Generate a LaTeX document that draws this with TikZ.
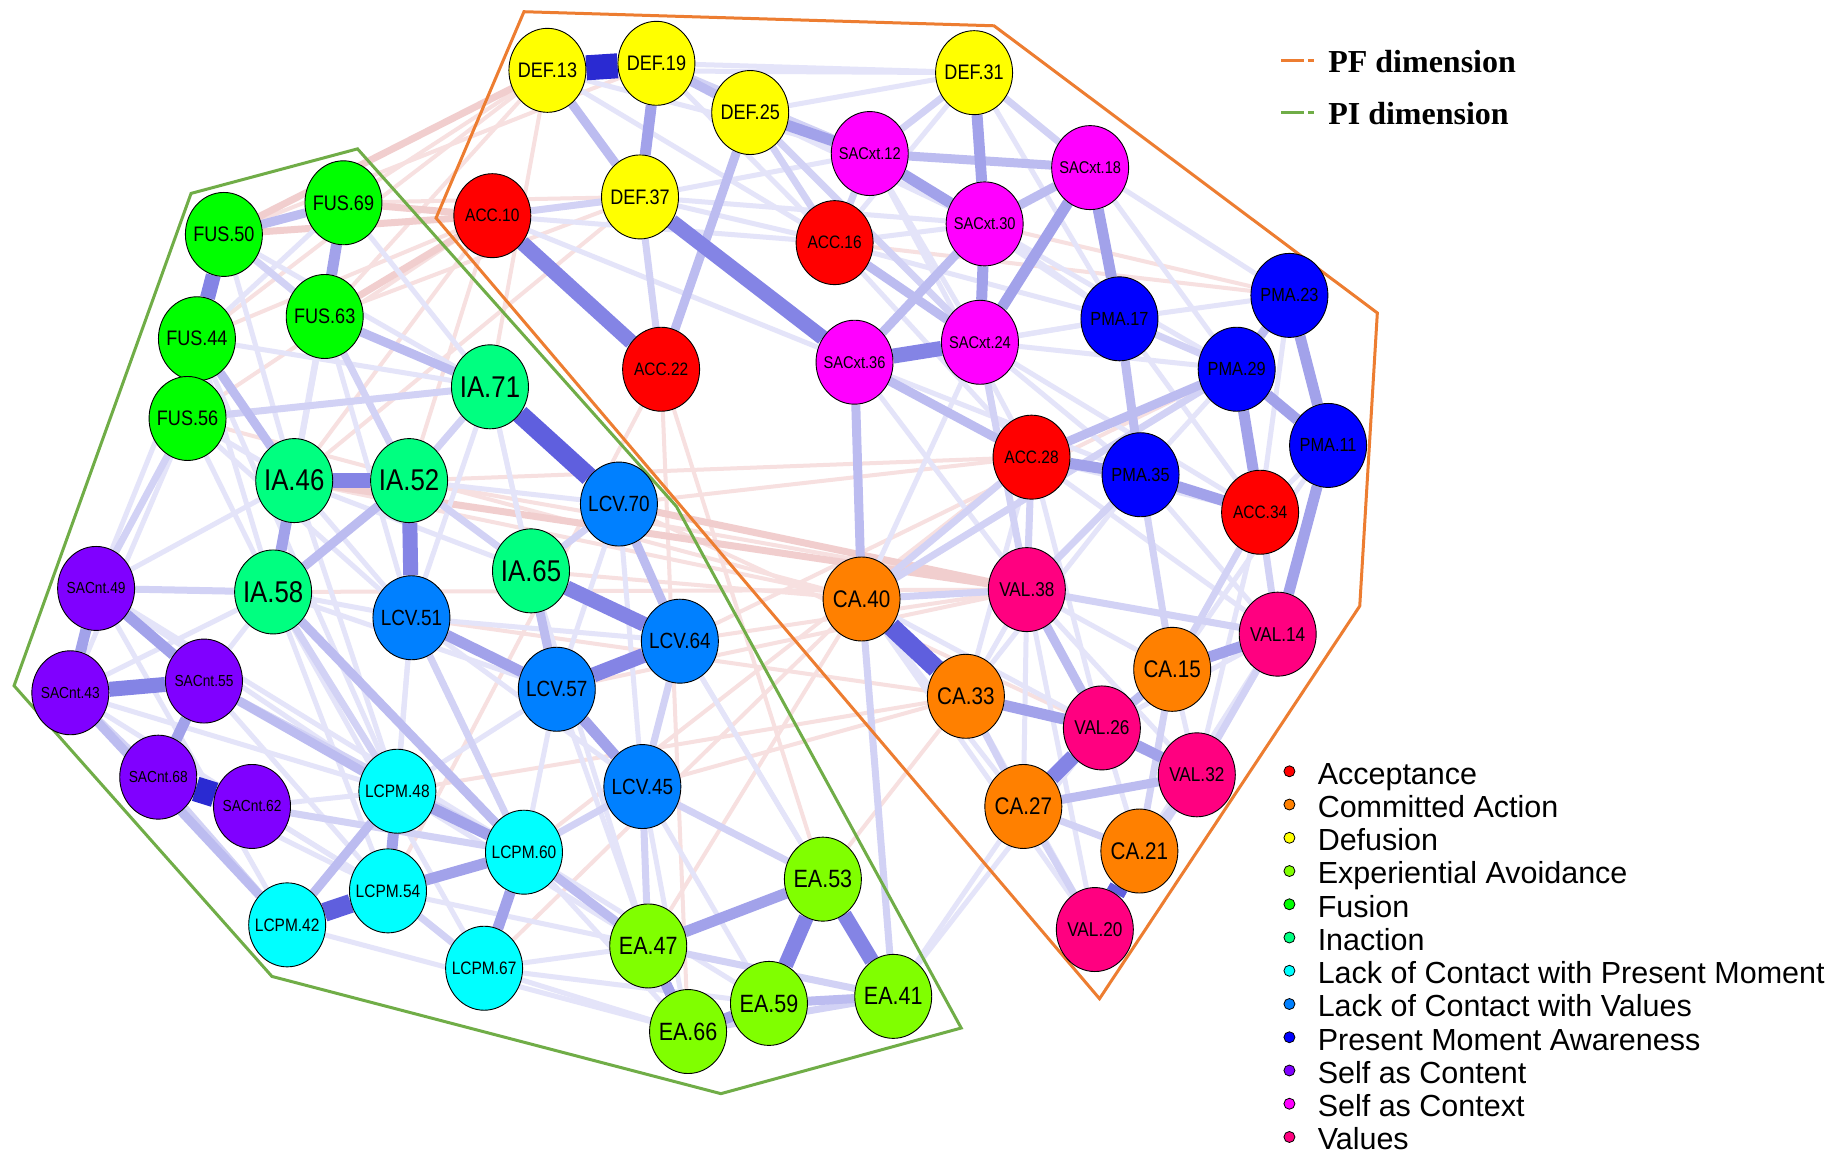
\documentclass[tikz,border=0pt]{standalone}
\usepackage{fontspec}
\setmainfont{Liberation Sans}
\newfontfamily\labfont[FakeStretch=0.86]{Liberation Sans}
\newfontfamily\keyserif{Liberation Serif}
\usetikzlibrary{shapes.geometric}
\pgfdeclarelayer{bg}
\pgfsetlayers{bg,main}

% group colours
\definecolor{cACC}{HTML}{FF0000}
\definecolor{cCA}{HTML}{FF8000}
\definecolor{cDEF}{HTML}{FFFF00}
\definecolor{cEA}{HTML}{80FF00}
\definecolor{cFUS}{HTML}{00FF00}
\definecolor{cIA}{HTML}{00FF80}
\definecolor{cLCPM}{HTML}{00FFFF}
\definecolor{cLCV}{HTML}{0080FF}
\definecolor{cPMA}{HTML}{0000FF}
\definecolor{cSCN}{HTML}{8000FF}
\definecolor{cSXT}{HTML}{FF00FF}
\definecolor{cVAL}{HTML}{FF0080}
\definecolor{cPF}{HTML}{ED7D31}
\definecolor{cPI}{HTML}{70AD47}
% edge shades
\definecolor{b1}{RGB}{228,228,249}
\definecolor{b2}{RGB}{210,210,245}
\definecolor{b3}{RGB}{188,188,240}
\definecolor{b4}{RGB}{162,162,234}
\definecolor{b5}{RGB}{132,132,229}
\definecolor{b6}{RGB}{95,95,222}
\definecolor{b7}{RGB}{42,42,210}
\definecolor{r1}{RGB}{247,224,224}
\definecolor{r2}{RGB}{241,206,206}

\newcommand\fsz[1]{\fontsize{#1pt}{#1pt}\selectfont}
\newcommand\nd[6]{\node[vx, fill=#4, label={[lbl, font=\labfont\fsz{#5}]center:#6}] (#1) at (#2,#3) {};}
\newcommand\lnk[3]{\draw[#1] (#2) -- (#3);}

\tikzset{
  vx/.style={ellipse, draw=black, line width=0.9pt, minimum width=77pt, minimum height=84pt, inner sep=0pt},
  lbl/.style={inner sep=0pt, text=black},
  e1/.style={b1, line width=5pt},
  e2/.style={b2, line width=7pt},
  e3/.style={b3, line width=9pt},
  e4/.style={b4, line width=11pt},
  e5/.style={b5, line width=15pt},
  e6/.style={b6, line width=19pt},
  e7/.style={b7, line width=25pt},
  n1/.style={r1, line width=4pt},
  n2/.style={r2, line width=7pt},
  hull/.style={line width=3pt, line join=miter},
  keytext/.style={anchor=base west, inner sep=0pt, font=\fsz{30.5}},
  keydot/.style={circle, draw=black, line width=0.8pt, minimum size=11pt, inner sep=0pt},
}

\begin{document}
\begin{tikzpicture}[x=1.1722pt, y=-1.1722pt]
\useasboundingbox (0,0) rectangle (1568,987);

% ---- nodes ----
\nd{DEF13}{467}{60}{cDEF}{21}{DEF.13}
\nd{DEF19}{560}{54}{cDEF}{21}{DEF.19}
\nd{DEF25}{640}{96}{cDEF}{21}{DEF.25}
\nd{DEF31}{831}{62}{cDEF}{21}{DEF.31}
\nd{DEF37}{546}{168}{cDEF}{21}{DEF.37}
\nd{SXT12}{742}{131}{cSXT}{17}{SACxt.12}
\nd{SXT18}{930}{143}{cSXT}{17}{SACxt.18}
\nd{SXT30}{840}{191}{cSXT}{17}{SACxt.30}
\nd{SXT36}{729}{309}{cSXT}{17}{SACxt.36}
\nd{SXT24}{836}{292}{cSXT}{17}{SACxt.24}
\nd{ACC10}{420}{184}{cACC}{18}{ACC.10}
\nd{ACC16}{712}{207}{cACC}{18}{ACC.16}
\nd{ACC22}{564}{315}{cACC}{18}{ACC.22}
\nd{ACC28}{880}{390}{cACC}{18}{ACC.28}
\nd{ACC34}{1075}{437}{cACC}{18}{ACC.34}
\nd{PMA17}{955}{272}{cPMA}{19}{PMA.17}
\nd{PMA23}{1100}{252}{cPMA}{19}{PMA.23}
\nd{PMA29}{1055}{315}{cPMA}{19}{PMA.29}
\nd{PMA11}{1133}{380}{cPMA}{19}{PMA.11}
\nd{PMA35}{973}{405}{cPMA}{19}{PMA.35}
\nd{VAL38}{876}{503}{cVAL}{20}{VAL.38}
\nd{VAL14}{1090}{541}{cVAL}{20}{VAL.14}
\nd{VAL26}{940}{621}{cVAL}{20}{VAL.26}
\nd{VAL32}{1021}{661}{cVAL}{20}{VAL.32}
\nd{VAL20}{934}{793}{cVAL}{20}{VAL.20}
\nd{CA40}{735}{511}{cCA}{24}{CA.40}
\nd{CA33}{824}{594}{cCA}{24}{CA.33}
\nd{CA15}{1000}{571}{cCA}{24}{CA.15}
\nd{CA27}{873}{688}{cCA}{24}{CA.27}
\nd{CA21}{972}{726}{cCA}{24}{CA.21}
\nd{FUS50}{191}{200}{cFUS}{21}{FUS.50}
\nd{FUS69}{293}{173}{cFUS}{21}{FUS.69}
\nd{FUS63}{277}{270}{cFUS}{21}{FUS.63}
\nd{FUS44}{168}{289}{cFUS}{21}{FUS.44}
\nd{FUS56}{160}{357}{cFUS}{21}{FUS.56}
\nd{IA71}{418}{330}{cIA}{30}{IA.71}
\nd{IA46}{251}{410}{cIA}{30}{IA.46}
\nd{IA52}{349}{410}{cIA}{30}{IA.52}
\nd{IA58}{233}{505}{cIA}{30}{IA.58}
\nd{IA65}{453}{487}{cIA}{30}{IA.65}
\nd{LCV70}{528}{430}{cLCV}{22}{LCV.70}
\nd{LCV51}{351}{527}{cLCV}{22}{LCV.51}
\nd{LCV64}{580}{547}{cLCV}{22}{LCV.64}
\nd{LCV57}{475}{588}{cLCV}{22}{LCV.57}
\nd{LCV45}{548}{671}{cLCV}{22}{LCV.45}
\nd{SCN49}{82}{502}{cSCN}{16}{SACnt.49}
\nd{SCN43}{60}{591}{cSCN}{16}{SACnt.43}
\nd{SCN55}{174}{581}{cSCN}{16}{SACnt.55}
\nd{SCN68}{135}{663}{cSCN}{16}{SACnt.68}
\nd{SCN62}{215}{688}{cSCN}{16}{SACnt.62}
\nd{LCPM48}{339}{675}{cLCPM}{18}{LCPM.48}
\nd{LCPM60}{447}{727}{cLCPM}{18}{LCPM.60}
\nd{LCPM54}{331}{760}{cLCPM}{18}{LCPM.54}
\nd{LCPM42}{245}{789}{cLCPM}{18}{LCPM.42}
\nd{LCPM67}{413}{826}{cLCPM}{18}{LCPM.67}
\nd{EA53}{702}{750}{cEA}{25}{EA.53}
\nd{EA47}{553}{807}{cEA}{25}{EA.47}
\nd{EA59}{656}{856}{cEA}{25}{EA.59}
\nd{EA41}{762}{850}{cEA}{25}{EA.41}
\nd{EA66}{587}{880}{cEA}{25}{EA.66}

% ---- key ----
\draw[cPF, line width=3pt, dash pattern=on 23pt off 4pt on 6pt off 50pt] (1093,52) -- (1122,52);
\draw[cPI, line width=3pt, dash pattern=on 23pt off 4pt on 6pt off 50pt] (1093,96) -- (1122,96);
\node[anchor=base west, inner sep=0pt, font=\keyserif\bfseries\fsz{32}] (kPF) at (1133,62) {PF dimension};
\node[anchor=base west, inner sep=0pt, font=\keyserif\bfseries\fsz{32}] (kPI) at (1133,106) {PI dimension};

\foreach \c/\t [count=\i from 0] in {cACC/Acceptance, cCA/Committed Action, cDEF/Defusion,
  cEA/Experiential Avoidance, cFUS/Fusion, cIA/Inaction,
  cLCPM/Lack of Contact with Present Moment, cLCV/Lack of Contact with Values,
  cPMA/Present Moment Awareness, cSCN/Self as Content, cSXT/Self as Context, cVAL/Values}{
  \node[keydot, fill=\c] (kd\i) at (1100,{658+28.36*\i}) {};
  \node[keytext] (kt\i) at (1124,{669+28.36*\i}) {\t};
}

% ---- edges and hulls ----
\begin{pgfonlayer}{bg}
\fill[white] (0,0) rectangle (1568,987);

% negative associations
\lnk{n1}{FUS69}{DEF13} \lnk{n1}{FUS50}{DEF19} \lnk{n1}{FUS44}{ACC10}
\lnk{n1}{FUS63}{DEF37} \lnk{n1}{FUS56}{ACC10} \lnk{n1}{IA71}{DEF13}
\lnk{n1}{FUS69}{DEF37} \lnk{n1}{ACC22}{EA53} \lnk{n1}{ACC22}{EA66}
\lnk{n1}{IA46}{CA40} \lnk{n1}{IA52}{VAL38} \lnk{n1}{LCV70}{ACC28}
\lnk{n1}{IA65}{CA40} \lnk{n1}{LCV51}{CA33} \lnk{n1}{IA52}{ACC28}
\lnk{n1}{LCPM60}{ACC28} \lnk{n1}{LCV57}{VAL38} \lnk{n1}{LCPM48}{CA33}
\lnk{n1}{EA47}{CA40} \lnk{n1}{SXT30}{PMA23} \lnk{n1}{LCV64}{PMA29}
\lnk{n1}{IA58}{VAL38} \lnk{n1}{FUS56}{CA40} \lnk{n1}{DEF37}{IA46}
\lnk{n1}{ACC10}{IA52} \lnk{n1}{LCV45}{CA33} \lnk{n1}{LCPM67}{CA40}
\lnk{n1}{ACC22}{LCPM54} \lnk{n1}{DEF13}{FUS44} \lnk{n1}{LCV70}{VAL26}
\lnk{n1}{FUS63}{DEF13} \lnk{n1}{IA46}{ACC10} \lnk{n1}{LCV64}{VAL38}
\lnk{n1}{EA53}{CA33} \lnk{n1}{ACC16}{PMA23}
\lnk{n2}{FUS69}{ACC10} \lnk{n2}{FUS50}{ACC10} \lnk{n2}{FUS50}{DEF13}
\lnk{n2}{FUS63}{ACC10} \lnk{n2}{IA46}{VAL38} \lnk{n2}{LCV70}{VAL38}

% faint positive associations
\lnk{e1}{FUS50}{IA71} \lnk{e1}{FUS69}{IA71} \lnk{e1}{FUS69}{IA46}
\lnk{e1}{FUS56}{IA46} \lnk{e1}{FUS56}{IA58} \lnk{e1}{FUS44}{IA58}
\lnk{e1}{FUS63}{IA46} \lnk{e1}{FUS44}{SCN49} \lnk{e1}{FUS56}{SCN43}
\lnk{e1}{SCN49}{LCPM42} \lnk{e1}{SCN43}{LCPM54} \lnk{e1}{SCN55}{IA58}
\lnk{e1}{IA58}{LCV51} \lnk{e1}{IA46}{LCV51} \lnk{e1}{IA52}{LCV70}
\lnk{e1}{IA71}{IA65} \lnk{e1}{LCV70}{LCV57} \lnk{e1}{LCV51}{LCV64}
\lnk{e1}{LCV51}{LCV45} \lnk{e1}{LCV70}{LCV45} \lnk{e1}{LCPM48}{LCV57}
\lnk{e1}{LCPM67}{EA47} \lnk{e1}{LCPM67}{EA66} \lnk{e1}{LCPM42}{EA66}
\lnk{e1}{LCPM54}{EA47} \lnk{e1}{LCV45}{EA59} \lnk{e1}{LCV64}{EA41}
\lnk{e1}{IA65}{EA47} \lnk{e1}{DEF13}{SXT12} \lnk{e1}{DEF19}{DEF31}
\lnk{e1}{DEF13}{DEF31} \lnk{e1}{DEF25}{DEF31} \lnk{e1}{DEF37}{ACC16}
\lnk{e1}{DEF37}{SXT30} \lnk{e1}{ACC10}{SXT36} \lnk{e1}{ACC16}{SXT30}
\lnk{e1}{ACC16}{ACC28} \lnk{e1}{SXT12}{SXT24} \lnk{e1}{SXT18}{PMA23}
\lnk{e1}{SXT18}{PMA29} \lnk{e1}{SXT30}{PMA17} \lnk{e1}{SXT24}{PMA17}
\lnk{e1}{SXT24}{PMA35} \lnk{e1}{PMA17}{PMA23} \lnk{e1}{PMA35}{PMA29}
\lnk{e1}{PMA35}{VAL14} \lnk{e1}{ACC34}{VAL32}
\lnk{e1}{ACC28}{CA33} \lnk{e1}{ACC28}{VAL26} \lnk{e1}{VAL38}{CA33}
\lnk{e1}{VAL38}{CA15} \lnk{e1}{VAL38}{VAL32} \lnk{e1}{CA40}{CA27}
\lnk{e1}{CA40}{VAL20} \lnk{e1}{SXT36}{VAL38} \lnk{e1}{SXT24}{CA40}
\lnk{e1}{PMA11}{CA15} \lnk{e1}{VAL14}{VAL26} \lnk{e1}{CA33}{VAL20}
\lnk{e1}{VAL38}{VAL20} \lnk{e1}{EA41}{CA27} \lnk{e1}{EA41}{VAL26}
\lnk{e1}{SCN49}{LCPM48} \lnk{e1}{SCN62}{LCPM54} \lnk{e1}{IA58}{LCPM54}
\lnk{e1}{IA46}{LCPM48} \lnk{e1}{LCV51}{LCPM48} \lnk{e1}{FUS50}{FUS56}
\lnk{e1}{FUS69}{FUS44} \lnk{e1}{IA71}{LCV51} \lnk{e1}{DEF31}{PMA17}
\lnk{e1}{SXT12}{ACC28} \lnk{e1}{SXT36}{PMA35} \lnk{e1}{ACC28}{VAL14}
\lnk{e1}{DEF19}{ACC16} \lnk{e1}{SCN43}{IA58} \lnk{e1}{LCPM48}{EA47}
\lnk{e1}{FUS44}{IA71} \lnk{e1}{FUS50}{IA46} \lnk{e1}{FUS69}{IA58}
\lnk{e1}{FUS63}{IA58} \lnk{e1}{FUS63}{LCV51} \lnk{e1}{FUS56}{LCV51}
\lnk{e1}{FUS44}{LCPM48} \lnk{e1}{IA46}{IA65} \lnk{e1}{IA58}{LCV57}
\lnk{e1}{IA71}{LCV57} \lnk{e1}{SCN49}{IA46} \lnk{e1}{SCN55}{LCPM54}
\lnk{e1}{SCN68}{LCPM54} \lnk{e1}{SCN62}{LCPM48} \lnk{e1}{SCN43}{LCPM48}
\lnk{e1}{SCN49}{LCPM60} \lnk{e1}{IA58}{LCPM67} \lnk{e1}{LCV51}{LCPM54}
\lnk{e1}{LCV57}{LCPM60} \lnk{e1}{LCPM60}{EA66} \lnk{e1}{LCPM60}{EA59}
\lnk{e1}{LCPM67}{EA59} \lnk{e1}{LCV45}{EA66} \lnk{e1}{LCV64}{EA53}
\lnk{e1}{LCV57}{EA47} \lnk{e1}{DEF25}{SXT30} \lnk{e1}{DEF19}{SXT30}
\lnk{e1}{DEF13}{ACC16} \lnk{e1}{DEF37}{SXT12} \lnk{e1}{DEF31}{ACC16}
\lnk{e1}{SXT12}{PMA17} \lnk{e1}{SXT30}{PMA29} \lnk{e1}{SXT24}{PMA29}
\lnk{e1}{ACC16}{PMA17} \lnk{e1}{SXT36}{PMA17} \lnk{e1}{SXT24}{ACC34}
\lnk{e1}{ACC28}{ACC34} \lnk{e1}{PMA35}{CA33} \lnk{e1}{PMA17}{ACC34}
\lnk{e1}{PMA23}{ACC34} \lnk{e1}{PMA11}{ACC34} \lnk{e1}{VAL14}{CA21}
\lnk{e1}{VAL32}{CA15} \lnk{e1}{CA15}{CA27} \lnk{e1}{VAL26}{CA21}
\lnk{e1}{CA40}{VAL26} \lnk{e1}{VAL38}{CA27} \lnk{e1}{ACC10}{ACC16}

% light positive associations
\lnk{e2}{IA52}{IA65} \lnk{e2}{IA71}{IA52} \lnk{e2}{IA65}{LCV70}
\lnk{e2}{LCV64}{LCV45} \lnk{e2}{CA33}{CA27} \lnk{e2}{CA27}{CA21}
\lnk{e2}{VAL32}{CA21} \lnk{e2}{FUS44}{FUS56} \lnk{e2}{FUS63}{IA52}
\lnk{e2}{LCPM54}{LCPM67} \lnk{e2}{SCN68}{LCPM42} \lnk{e2}{ACC28}{VAL38}
\lnk{e2}{CA40}{VAL38} \lnk{e2}{DEF31}{SXT18} \lnk{e2}{DEF31}{SXT12}
\lnk{e2}{ACC10}{DEF37} \lnk{e2}{DEF19}{SXT12} \lnk{e2}{DEF25}{SXT24}
\lnk{e2}{ACC16}{SXT12} \lnk{e2}{DEF25}{ACC16} \lnk{e2}{ACC22}{DEF37}
\lnk{e2}{FUS50}{FUS63} \lnk{e2}{LCV45}{EA47} \lnk{e2}{LCV45}{LCPM60}
\lnk{e2}{VAL14}{VAL32} \lnk{e2}{CA15}{CA21} \lnk{e2}{ACC34}{VAL14}
\lnk{e2}{ACC34}{CA15} \lnk{e2}{PMA35}{VAL38} \lnk{e2}{PMA17}{PMA29}
\lnk{e2}{SCN49}{IA58} \lnk{e2}{FUS56}{SCN49} \lnk{e2}{SCN43}{SCN68}
\lnk{e2}{SCN62}{LCPM60} \lnk{e2}{IA58}{LCPM48} \lnk{e2}{LCV51}{LCPM60}
\lnk{e2}{LCV45}{EA53} \lnk{e2}{VAL20}{CA27} \lnk{e2}{VAL20}{VAL32}
\lnk{e2}{SXT24}{VAL38} \lnk{e2}{CA40}{EA41} \lnk{e2}{EA47}{EA41}
\lnk{e2}{EA66}{EA41} \lnk{e2}{FUS56}{IA71} \lnk{e2}{SCN55}{LCPM60}
\lnk{e2}{VAL38}{VAL14} \lnk{e2}{PMA35}{CA15} \lnk{e2}{PMA29}{CA40}
\lnk{e2}{ACC28}{CA40}

% medium positive associations
\lnk{e3}{EA59}{EA41} \lnk{e3}{DEF19}{DEF25} \lnk{e3}{DEF25}{ACC22}
\lnk{e3}{SXT30}{SXT36} \lnk{e3}{PMA23}{PMA29} \lnk{e3}{CA27}{VAL32}
\lnk{e3}{FUS50}{FUS69} \lnk{e3}{FUS63}{IA71} \lnk{e3}{FUS44}{IA46}
\lnk{e3}{IA52}{IA58} \lnk{e3}{IA65}{LCV57} \lnk{e3}{SXT36}{ACC28}
\lnk{e3}{SXT36}{CA40} \lnk{e3}{DEF13}{DEF37} \lnk{e3}{CA15}{VAL26}
\lnk{e3}{VAL38}{VAL26} \lnk{e3}{LCPM42}{LCPM48} \lnk{e3}{SCN43}{LCPM42}
\lnk{e3}{LCV70}{LCV64} \lnk{e3}{SXT12}{SXT18} \lnk{e3}{PMA17}{PMA35}
\lnk{e3}{ACC16}{SXT24} \lnk{e3}{ACC28}{PMA29} \lnk{e3}{IA58}{LCPM60}
\lnk{e3}{SCN55}{LCPM48} \lnk{e3}{LCPM60}{EA47} \lnk{e3}{SXT18}{SXT30}

% strong positive associations
\lnk{e4}{EA47}{EA66} \lnk{e4}{EA59}{EA66} \lnk{e4}{EA47}{EA53}
\lnk{e4}{SCN49}{SCN55} \lnk{e4}{SCN55}{SCN68} \lnk{e4}{SCN49}{SCN43}
\lnk{e4}{LCV51}{LCV57} \lnk{e4}{LCV57}{LCV45} \lnk{e4}{DEF19}{DEF37}
\lnk{e4}{DEF25}{SXT12} \lnk{e4}{SXT12}{SXT30} \lnk{e4}{PMA23}{PMA11}
\lnk{e4}{PMA29}{PMA11} \lnk{e4}{PMA29}{ACC34} \lnk{e4}{PMA11}{VAL14}
\lnk{e4}{PMA35}{ACC34} \lnk{e4}{ACC28}{PMA35} \lnk{e4}{CA33}{VAL26}
\lnk{e4}{VAL26}{VAL32} \lnk{e4}{LCPM48}{LCPM60} \lnk{e4}{LCPM54}{LCPM60}
\lnk{e4}{LCPM60}{LCPM67} \lnk{e4}{LCPM48}{LCPM54} \lnk{e4}{SXT18}{PMA17}
\lnk{e4}{IA46}{IA58} \lnk{e4}{FUS69}{FUS63} \lnk{e4}{VAL14}{CA15}
\lnk{e4}{DEF31}{SXT30} \lnk{e4}{SXT30}{SXT24} \lnk{e4}{SXT18}{SXT24}

\lnk{e5}{LCV57}{LCV64} \lnk{e5}{CA27}{VAL26} \lnk{e5}{EA53}{EA59}
\lnk{e5}{EA53}{EA41} \lnk{e5}{FUS50}{FUS44} \lnk{e5}{IA46}{IA52}
\lnk{e5}{IA52}{LCV51} \lnk{e5}{SCN43}{SCN55} \lnk{e5}{ACC10}{ACC22}
\lnk{e5}{DEF37}{SXT36} \lnk{e5}{SXT36}{SXT24} \lnk{e5}{IA65}{LCV64}

\lnk{e6}{CA40}{CA33} \lnk{e6}{IA71}{LCV70} \lnk{e6}{LCPM42}{LCPM54}
\lnk{e6}{CA21}{VAL20}

\lnk{e7}{DEF13}{DEF19} \lnk{e7}{SCN68}{SCN62}

% dimension hulls
\draw[hull, cPF] (372,186) -- (447,10) -- (848,22) -- (1175,267) -- (1160,517) -- (938,852) -- cycle;
\draw[hull, cPI] (163,165) -- (305,127) -- (577,432) -- (820,877) -- (615,933) -- (232,833) -- (12,585) -- cycle;
\end{pgfonlayer}
\end{tikzpicture}
\end{document}
